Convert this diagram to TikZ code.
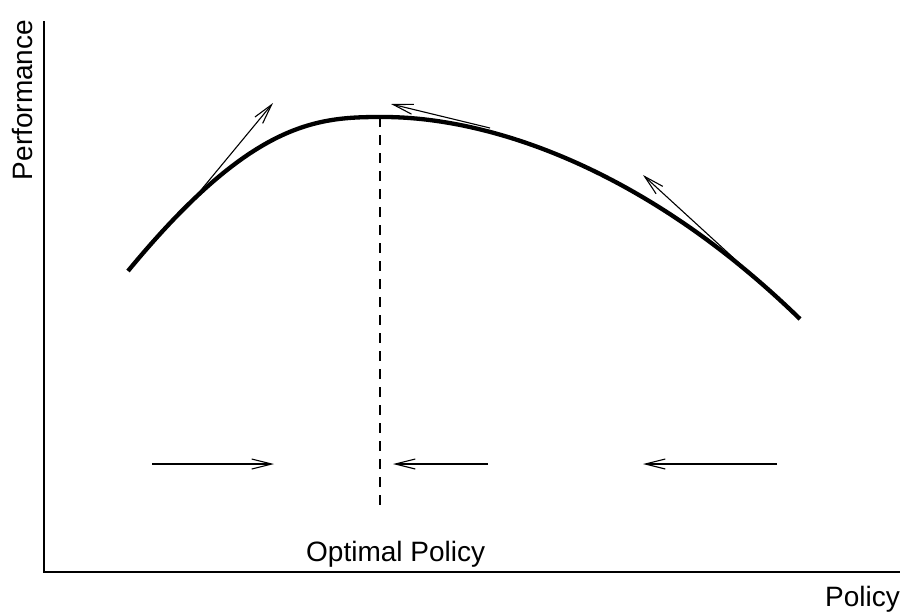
\documentclass[tikz,border=0pt]{standalone}
\usepackage{fontspec}
\setmainfont{Liberation Sans}
\usetikzlibrary{arrows.meta}
\begin{document}
\begin{tikzpicture}[x=1pt,y=-1pt,
  axisline/.style={line width=1.1pt},
  perfcurve/.style={line width=4.3pt},
  gradarrow/.style={line width=1.1pt,-{Straight Barb[length=20pt,width=10pt,line width=1.1pt]}},
  optline/.style={line width=1.1pt,dash pattern=on 10pt off 8pt},
  lbl/.style={font=\fontsize{28}{32}\selectfont,inner sep=0pt}]
\useasboundingbox (0,0) rectangle (902,611);
% axes
\coordinate (ytop) at (44,21);
\coordinate (origin) at (44,572);
\coordinate (xend) at (900,572);
\draw[axisline] (ytop) -- (origin) -- (xend);
% performance curve
\coordinate (c0) at (128,271);
\coordinate (peak) at (380,117);
\coordinate (c1) at (800,319);
\draw[perfcurve] (c0) .. controls (250,123) and (315,117) .. (peak)
  .. controls (488,116) and (645,168) .. (c1);
% tangent (gradient) arrows
\coordinate (g1s) at (187,207); \coordinate (g1e) at (273,103);
\coordinate (g2s) at (490,128); \coordinate (g2e) at (391,104);
\coordinate (g3s) at (762,284); \coordinate (g3e) at (643,175);
\draw[gradarrow] (g1s) -- (g1e);
\draw[gradarrow] (g2s) -- (g2e);
\draw[gradarrow] (g3s) -- (g3e);
% optimal policy line
\coordinate (optbot) at (380,510);
\draw[optline] (peak) -- (optbot);
% horizontal arrows
\coordinate (h1s) at (152,464); \coordinate (h1e) at (274,464);
\coordinate (h2s) at (488,464); \coordinate (h2e) at (393,464);
\coordinate (h3s) at (777,464); \coordinate (h3e) at (643,464);
\draw[gradarrow] (h1s) -- (h1e);
\draw[gradarrow] (h2s) -- (h2e);
\draw[gradarrow] (h3s) -- (h3e);
% labels
\node[lbl,anchor=base west] (optlbl) at (306,561) {Optimal Policy};
\node[lbl,anchor=base east] (xlbl) at (900,606) {Policy};
\node[lbl,rotate=90,anchor=base] (ylbl) at (32,100) {Performance};
\end{tikzpicture}
\end{document}
